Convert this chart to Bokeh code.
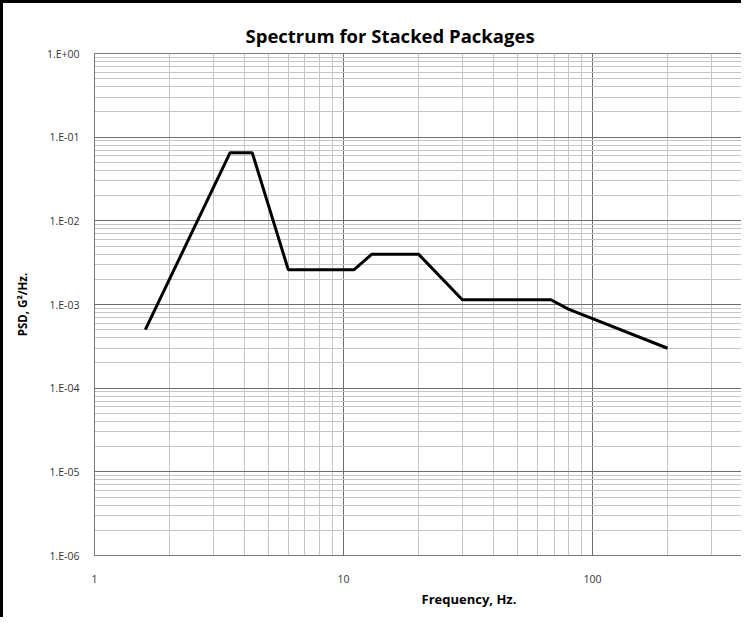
from bokeh.plotting import figure
from bokeh.models import FixedTicker, Title, Range1d, CustomJSTickFormatter
from bokeh.embed import file_html
from bokeh.resources import INLINE

# Data
freq = [1.6, 3.5, 4.3, 6, 11, 13, 20, 30, 68, 80, 200]
psd = [5.0e-4, 0.065, 0.065, 0.0026, 0.0026, 0.004, 0.004, 0.00114, 0.00114, 0.00088, 0.0003]

title_text = "Spectrum for Stacked Packages"
x_title = "Frequency, Hz."
y_title = "PSD, G\u00b2/Hz."

x_major = [1, 10, 100, 1000]
x_minor = [m * d for d in (1, 10, 100) for m in range(2, 10)]
y_major = [1e-6, 1e-5, 1e-4, 1e-3, 1e-2, 1e-1, 1.0]
y_minor = [m * d for d in (1e-6, 1e-5, 1e-4, 1e-3, 1e-2, 1e-1) for m in range(2, 10)]

FONT = "Open Sans"

p = figure(width=741, height=617, x_axis_type="log", y_axis_type="log",
           x_range=Range1d(1, 10 ** 2.61), y_range=Range1d(1e-6, 1.0),
           output_backend="svg", toolbar_location=None,
           min_border_left=91, min_border_right=0, min_border_top=50, min_border_bottom=65)

p.styles = {"border-left": "3px solid black", "border-top": "3px solid black"}

p.title.text = title_text
p.title.align = "left"
p.title.offset = 151
p.title.text_font = FONT
p.title.text_font_size = "18.5px"
p.title.text_font_style = "bold"
p.title.text_color = "#000000"
p.title.standoff = 12

p.outline_line_color = "#7a7a7a"
p.outline_line_width = 1
p.background_fill_color = "white"
p.border_fill_color = "white"

for ax in (p.xaxis[0], p.yaxis[0]):
    ax.major_tick_line_color = None
    ax.minor_tick_line_color = None
    ax.axis_line_color = "#7a7a7a"
    ax.major_label_text_font = FONT
    ax.major_label_text_font_size = "10.5px"
    ax.major_label_text_color = "#333333"

p.xaxis[0].ticker = FixedTicker(ticks=x_major, minor_ticks=x_minor)
p.yaxis[0].ticker = FixedTicker(ticks=y_major, minor_ticks=y_minor)
p.xaxis[0].formatter = CustomJSTickFormatter(code="return String(Math.round(tick));")
p.yaxis[0].formatter = CustomJSTickFormatter(code="""
const e = Math.round(Math.log10(tick));
return '1.E' + (e < 0 ? '-' : '+') + String(Math.abs(e)).padStart(2, '0');
""")
p.xaxis[0].major_label_standoff = 13
p.yaxis[0].major_label_standoff = 9

p.yaxis[0].axis_label = y_title
p.yaxis[0].axis_label_text_font = FONT
p.yaxis[0].axis_label_text_font_size = "11.5px"
p.yaxis[0].axis_label_text_font_style = "bold"
p.yaxis[0].axis_label_text_color = "#000000"
p.yaxis[0].axis_label_standoff = 14

p.add_layout(Title(text=x_title, align="left", offset=327, text_font=FONT,
                   text_font_size="13px", text_font_style="bold",
                   text_color="#000000", standoff=4), "below")

for g in (p.xgrid[0], p.ygrid[0]):
    g.grid_line_color = "#6e6e6e"
    g.grid_line_width = 1
    g.minor_grid_line_color = "#c4c4c4"
    g.minor_grid_line_width = 1

p.line(freq, psd, line_color="black", line_width=3)

open("out.html", "w").write(file_html(p, INLINE))
